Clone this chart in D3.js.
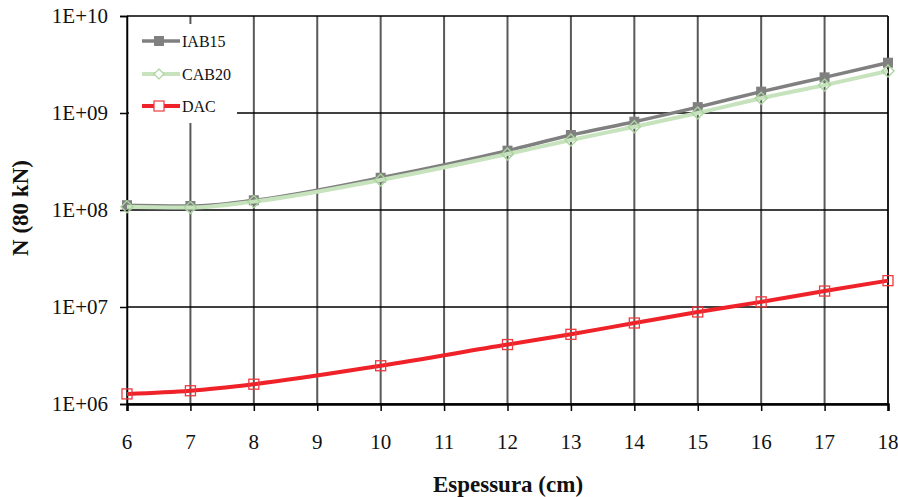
<!DOCTYPE html>
<html>
<head>
<meta charset="utf-8">
<script src="https://cdn.jsdelivr.net/npm/d3@7"></script>
<style>
    body { margin: 0; background: #fff; }
</style>
</head>
<body>
<script>
// ================================
// DATA
// ================================
var espessura = [6, 7, 8, 10, 12, 13, 14, 15, 16, 17, 18];

var iab15 = [1.12e8, 1.10e8, 1.26e8, 2.15e8, 4.09e8, 5.93e8, 8.13e8, 1.15e9, 1.66e9, 2.33e9, 3.30e9];
var cab20 = [1.08e8, 1.06e8, 1.22e8, 2.04e8, 3.78e8, 5.27e8, 7.22e8, 1.00e9, 1.42e9, 1.94e9, 2.71e9];
var dac   = [1.27e6, 1.37e6, 1.60e6, 2.48e6, 4.10e6, 5.23e6, 6.84e6, 8.88e6, 1.13e7, 1.46e7, 1.87e7];

var xTicks = [6, 7, 8, 9, 10, 11, 12, 13, 14, 15, 16, 17, 18];
var yTicks = [1e6, 1e7, 1e8, 1e9, 1e10];
var yTickLabels = ["1E+06", "1E+07", "1E+08", "1E+09", "1E+10"];

var seriesNames = ["IAB15", "CAB20", "DAC"];

var FONT = "Liberation Serif";

// ================================
// SETUP
// ================================
var width = 898,
    height = 497;

var margin = {top: 16, left: 127};
var plotW = 888 - margin.left,
    plotH = 404 - margin.top;

var svg = d3.select("body")
    .append("svg")
    .attr("width", width)
    .attr("height", height);

var g = svg.append("g")
    .attr("transform", "translate(" + margin.left + "," + margin.top + ")");

var x = d3.scaleLinear()
    .domain([6, 18])
    .range([0, plotW]);

var y = d3.scaleLog()
    .domain([1e6, 1e10])
    .range([plotH, 0]);

// gridlines (vertical grey, horizontal black)
g.selectAll(".vgrid")
    .data(xTicks)
    .enter()
    .append("line")
    .attr("class", "vgrid")
    .attr("x1", function(d){ return x(d); })
    .attr("x2", function(d){ return x(d); })
    .attr("y1", 0)
    .attr("y2", plotH)
    .attr("stroke", "#595959")
    .attr("stroke-width", 2);

g.selectAll(".hgrid")
    .data(yTicks)
    .enter()
    .append("line")
    .attr("class", "hgrid")
    .attr("x1", 0)
    .attr("x2", plotW)
    .attr("y1", function(d){ return y(d); })
    .attr("y2", function(d){ return y(d); })
    .attr("stroke", "#000")
    .attr("stroke-width", 1.3);

// axes (lines + ticks only, labels drawn below)
var gx = g.append("g")
    .attr("transform", "translate(0," + plotH + ")")
    .call(d3.axisBottom(x).tickValues(xTicks).tickSize(7).tickFormat(""));

var gy = g.append("g")
    .call(d3.axisLeft(y).tickValues(yTicks).tickSize(7).tickFormat(""));

gx.select(".domain").attr("stroke", "#000").attr("stroke-width", 2.5);
gy.select(".domain").attr("stroke", "#000").attr("stroke-width", 1.5);
gx.selectAll(".tick line").attr("stroke", "#000").attr("stroke-width", 1.5);
gy.selectAll(".tick line").attr("stroke", "#000").attr("stroke-width", 1.5);

// tick labels
g.selectAll(".xlab")
    .data(xTicks)
    .enter()
    .append("text")
    .attr("class", "xlab")
    .attr("x", function(d){ return x(d); })
    .attr("y", plotH + 45)
    .attr("text-anchor", "middle")
    .attr("font-family", FONT)
    .attr("font-size", 21)
    .attr("fill", "#111")
    .text(function(d){ return d; });

g.selectAll(".ylab")
    .data(yTicks)
    .enter()
    .append("text")
    .attr("class", "ylab")
    .attr("x", -19)
    .attr("y", function(d){ return y(d); })
    .attr("dy", "0.34em")
    .attr("text-anchor", "end")
    .attr("font-family", FONT)
    .attr("font-size", 21)
    .attr("fill", "#111")
    .text(function(d, i){ return yTickLabels[i]; });

// right border
g.append("line")
    .attr("x1", plotW).attr("x2", plotW)
    .attr("y1", 0).attr("y2", plotH)
    .attr("stroke", "#000").attr("stroke-width", 1.3);

// ================================
// SERIES
// ================================
var line = d3.line()
    .x(function(d){ return x(d[0]); })
    .y(function(d){ return y(d[1]); })
    .curve(d3.curveMonotoneX);

function pairs(vals){
    return espessura.map(function(e, i){ return [e, vals[i]]; });
}

var styles = {
    IAB15: {color: "#808080", width: 3.5},
    CAB20: {color: "#c6e3bd", width: 4},
    DAC:   {color: "#ee2228", width: 4}
};

var seriesData = [iab15, cab20, dac];

// squares / diamonds
function drawMarkers(sel, name, pts){
    var st = styles[name];
    if (name === "IAB15"){
        sel.selectAll(".m").data(pts).enter().append("rect")
            .attr("x", function(d){ return x(d[0]) - 5; })
            .attr("y", function(d){ return y(d[1]) - 5; })
            .attr("width", 10).attr("height", 10)
            .attr("fill", st.color);
    } else if (name === "CAB20"){
        sel.selectAll(".m").data(pts).enter().append("path")
            .attr("d", function(d){
                var cx = x(d[0]), cy = y(d[1]);
                return "M" + cx + "," + (cy - 6) + "L" + (cx + 6) + "," + cy +
                    "L" + cx + "," + (cy + 6) + "L" + (cx - 6) + "," + cy + "Z";
            })
            .attr("fill", "none")
            .attr("stroke", "#a9d49c")
            .attr("stroke-width", 1.3);
    } else {
        sel.selectAll(".m").data(pts).enter().append("rect")
            .attr("x", function(d){ return x(d[0]) - 5; })
            .attr("y", function(d){ return y(d[1]) - 5; })
            .attr("width", 10).attr("height", 10)
            .attr("fill", "none")
            .attr("stroke", "#ee3a3f")
            .attr("stroke-width", 1.3);
    }
}

seriesNames.forEach(function(name, i){
    var pts = pairs(seriesData[i]);
    var sg = g.append("g");
    sg.append("path")
        .datum(pts)
        .attr("d", line)
        .attr("fill", "none")
        .attr("stroke", styles[name].color)
        .attr("stroke-width", styles[name].width);
    drawMarkers(sg, name, pts);
});

// ================================
// LEGEND
// ================================
var legend = g.append("g");

legend.append("rect")
    .attr("x", 2)
    .attr("y", 8)
    .attr("width", 108)
    .attr("height", 99)
    .attr("fill", "#fff");

var legendY = [25, 58, 90];

seriesNames.forEach(function(name, i){
    var ly = legendY[i];
    var lg = legend.append("g");
    lg.append("line")
        .attr("x1", 15).attr("x2", 53)
        .attr("y1", ly).attr("y2", ly)
        .attr("stroke", styles[name].color)
        .attr("stroke-width", styles[name].width);
    var cx = 32, cy = ly;
    if (name === "IAB15"){
        lg.append("rect").attr("x", cx - 5).attr("y", cy - 5)
            .attr("width", 10).attr("height", 10).attr("fill", styles[name].color);
    } else if (name === "CAB20"){
        lg.append("path")
            .attr("d", "M" + cx + "," + (cy - 5) + "L" + (cx + 5) + "," + cy +
                "L" + cx + "," + (cy + 5) + "L" + (cx - 5) + "," + cy + "Z")
            .attr("fill", "#fff").attr("stroke", "#a9d49c").attr("stroke-width", 1.2);
    } else {
        lg.append("rect").attr("x", cx - 5).attr("y", cy - 5)
            .attr("width", 10).attr("height", 10)
            .attr("fill", "#fff").attr("stroke", "#ee3a3f").attr("stroke-width", 1.2);
    }
    lg.append("text")
        .attr("x", 55)
        .attr("y", ly)
        .attr("dy", "0.35em")
        .attr("font-family", FONT)
        .attr("font-size", 16)
        .attr("fill", "#111")
        .text(name);
});

// ================================
// AXIS TITLES
// ================================
svg.append("text")
    .attr("x", 508)
    .attr("y", 492)
    .attr("text-anchor", "middle")
    .attr("font-family", FONT)
    .attr("font-size", 23)
    .attr("font-weight", "bold")
    .attr("fill", "#111")
    .text("Espessura (cm)");

svg.append("text")
    .attr("transform", "translate(28,208) rotate(-90)")
    .attr("text-anchor", "middle")
    .attr("font-family", FONT)
    .attr("font-size", 23)
    .attr("font-weight", "bold")
    .attr("fill", "#111")
    .text("N (80 kN)");
</script>
</body>
</html>
